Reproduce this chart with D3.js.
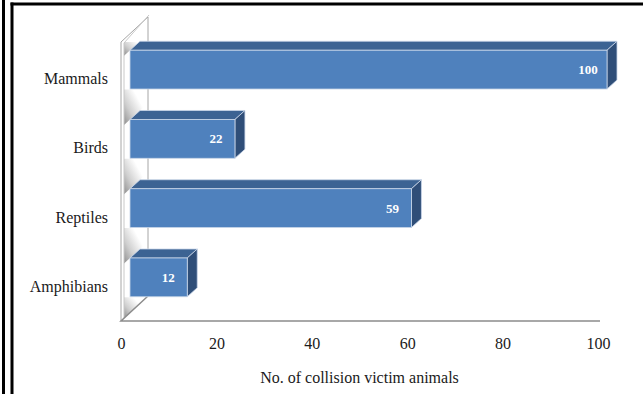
<!DOCTYPE html>
<html>
<head>
<meta charset="utf-8">
<script src="https://cdn.jsdelivr.net/npm/d3@7"></script>
<style>
  html, body { margin: 0; padding: 0; background: #fff; }
  #chart { width: 643px; height: 394px; }
  text { font-family: "Liberation Serif", "Times New Roman", serif; }
</style>
</head>
<body>
<div id="chart"></div>
<script>
const categories = ['Mammals', 'Birds', 'Reptiles', 'Amphibians'];
const victims = [100, 22, 59, 12];
const xTicks = [0, 20, 40, 60, 80, 100];
const xTitle = 'No. of collision victim animals';

const W = 643, H = 394;
const front = { left: 121, right: 598, top: 44, bottom: 321 };
// depth offsets (screen px): whole wall, bar front face, bar thickness
const wallD = [27, -25];
const barOff = [9, -9];
const barD = [10, -9];
const slope = barD[1] / barD[0];

const svg = d3.select('#chart').append('svg')
  .attr('width', W)
  .attr('height', H);

const defs = svg.append('defs');
const grad = defs.append('linearGradient')
  .attr('id', 'wallShade')
  .attr('x1', 0).attr('y1', 1).attr('x2', 1).attr('y2', 0);
grad.append('stop').attr('offset', '0%').attr('stop-color', '#8e8e8e');
grad.append('stop').attr('offset', '35%').attr('stop-color', '#cfcfcf');
grad.append('stop').attr('offset', '75%').attr('stop-color', '#ffffff');

// frame lines
svg.append('line').attr('x1', 3.5).attr('x2', 3.5).attr('y1', 0).attr('y2', H)
  .attr('stroke', '#000').attr('stroke-width', 3);
svg.append('line').attr('x1', 12).attr('x2', 12).attr('y1', 2.5).attr('y2', H)
  .attr('stroke', '#000').attr('stroke-width', 3);
svg.append('line').attr('x1', 10.5).attr('x2', W).attr('y1', 4).attr('y2', 4)
  .attr('stroke', '#000').attr('stroke-width', 3);

const x = d3.scaleLinear().domain([0, 100]).range([front.left, front.right]);
const y = d3.scaleBand().domain(categories).range([front.top, front.bottom])
  .paddingInner(0.44).paddingOuter(0.22);

const poly = pts => 'M' + pts.map(p => p.join(',')).join('L') + 'Z';
const x0 = x(0);
const wallTop = front.top - 2;

const data = categories.map((c, i) => ({ cat: c, v: victims[i] }));
const fx0 = d => x(0) + barOff[0];
const fx1 = d => x(d.v) + barOff[0];
const fy0 = d => y(d.cat) + barOff[1];
const fy1 = d => y(d.cat) + y.bandwidth() + barOff[1];

// shaded wedges on the side wall, in the gaps between bars
const gaps = data.map((d, i) => ({
  top: i === 0 ? wallTop : fy1(data[i - 1]) + 0.5,
  // bar top-face edge carried back to the wall slab
  lowL: fy0(d) - (barOff[0] - 3) * slope,
  lowR: fy0(d) + (wallD[0] - 5 - barOff[0]) * slope,
  rx: x0 + wallD[0] - 5
}));
gaps.push({
  top: fy1(data[data.length - 1]) + 0.5,
  lowL: front.bottom + 3 * (wallD[1] / wallD[0]),
  lowR: front.bottom + (wallD[0] - 5) * (wallD[1] / wallD[0]),
  rx: x0 + wallD[0] - 5
});
svg.append('g').selectAll('path').data(gaps).join('path')
  .attr('d', g => poly([[x0 + 3, g.top], [g.rx, g.top], [g.rx, g.lowR], [x0 + 3, g.lowL]]))
  .attr('fill', 'url(#wallShade)');

// wall slab edges
const wallLines = svg.append('g').attr('stroke', '#a6a6a6').attr('fill', 'none').attr('stroke-width', 1);
wallLines.append('path')
  .attr('d', `M${x0},${front.bottom}L${x0},${wallTop}L${x0 + wallD[0]},${wallTop + wallD[1]}`);
wallLines.append('path')
  .attr('d', `M${x0 + 3},${front.bottom - 3}L${x0 + 3},${wallTop + 1}L${x0 + wallD[0] + 1},${wallTop - 2 + wallD[1]}`)
  .attr('stroke', '#c8c8c8');
wallLines.append('path')
  .attr('d', `M${x0 + wallD[0]},${wallTop + wallD[1]}L${x0 + wallD[0]},${front.bottom + wallD[1]}`);
// floor
wallLines.append('path')
  .attr('d', `M${x0 + wallD[0]},${front.bottom + wallD[1]}L${x0},${front.bottom}L${x(100) + 2},${front.bottom}`)
  .attr('stroke', '#8c8c8c').attr('stroke-width', 1.5);

// bars
const bars = svg.append('g').selectAll('g').data(data).join('g');

bars.append('path') // top face
  .attr('d', d => poly([[fx0(d), fy0(d)], [fx0(d) + barD[0], fy0(d) + barD[1]],
                        [fx1(d) + barD[0], fy0(d) + barD[1]], [fx1(d), fy0(d)]]))
  .attr('fill', '#3c6393')
  .attr('stroke', '#c9d6e8').attr('stroke-width', 0.8);

bars.append('path') // end face
  .attr('d', d => poly([[fx1(d), fy0(d)], [fx1(d) + barD[0], fy0(d) + barD[1]],
                        [fx1(d) + barD[0], fy1(d) + barD[1]], [fx1(d), fy1(d)]]))
  .attr('fill', '#2f4e78')
  .attr('stroke', '#c9d6e8').attr('stroke-width', 0.8);

bars.append('rect') // front face
  .attr('x', fx0)
  .attr('y', fy0)
  .attr('width', d => fx1(d) - fx0(d))
  .attr('height', y.bandwidth())
  .attr('fill', '#4f81bd')
  .attr('stroke', '#c9d6e8').attr('stroke-width', 0.8);

bars.append('text')
  .attr('x', d => fx1(d) - 19)
  .attr('y', d => fy0(d) + y.bandwidth() / 2)
  .attr('dy', '0.35em')
  .attr('text-anchor', 'middle')
  .attr('fill', '#fff')
  .attr('font-size', 13)
  .attr('font-weight', 'bold')
  .text(d => d.v);

// category labels
svg.append('g').selectAll('text').data(categories).join('text')
  .attr('x', x0 - 13)
  .attr('y', d => y(d) + y.bandwidth() / 2)
  .attr('dy', '0.35em')
  .attr('text-anchor', 'end')
  .attr('font-size', 16)
  .attr('fill', '#1a1a1a')
  .text(d => d);

// x axis
const xAxis = svg.append('g')
  .attr('transform', `translate(0,${front.bottom})`)
  .call(d3.axisBottom(x).tickValues(xTicks).tickSize(0).tickPadding(17));
xAxis.select('.domain').remove();
xAxis.selectAll('text')
  .attr('font-family', '"Liberation Serif", serif')
  .attr('font-size', 16)
  .attr('fill', '#1a1a1a');

svg.append('text')
  .attr('x', (x(0) + x(100)) / 2)
  .attr('y', 383)
  .attr('text-anchor', 'middle')
  .attr('font-size', 16)
  .attr('fill', '#1a1a1a')
  .text(xTitle);
</script>
</body>
</html>
